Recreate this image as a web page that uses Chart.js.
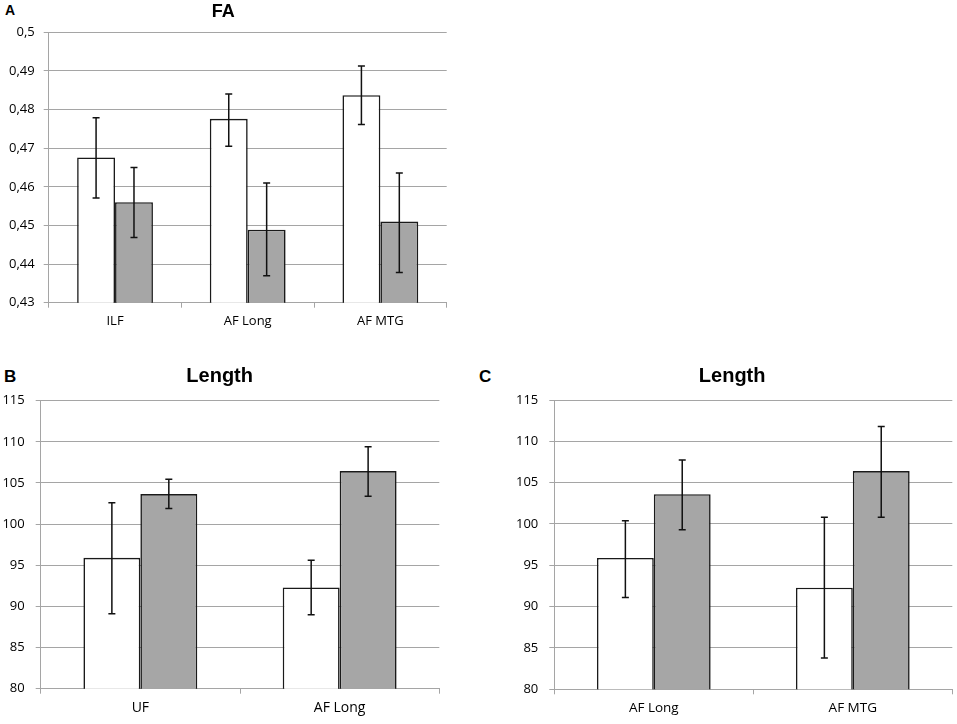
<!DOCTYPE html>
<html>
<head>
<meta charset="utf-8">
<script src="https://cdn.jsdelivr.net/npm/chart.js@4"></script>
<style>
  html, body { margin: 0; padding: 0; background: #fff; overflow: hidden; }
  body { width: 957px; height: 724px; position: relative; }
  .panel { position: absolute; }
  .letter { position: absolute; font-family: "Liberation Sans", Arial, sans-serif; font-weight: bold; color: #000; line-height: 1; }
</style>
</head>
<body>
<div class="letter" style="left:5px;top:3px;font-size:14px">A</div>
<div class="letter" style="left:4px;top:368px;font-size:17px">B</div>
<div class="letter" style="left:479px;top:368px;font-size:17px">C</div>

<div class="panel" style="left:0;top:0;width:462px;height:335px"><canvas id="chartA"></canvas></div>
<div class="panel" style="left:0;top:360px;width:494px;height:364px"><canvas id="chartB"></canvas></div>
<div class="panel" style="left:512px;top:360px;width:488px;height:364px"><canvas id="chartC"></canvas></div>

<script>
// ---- Data ----
const faCats    = ['ILF', 'AF Long', 'AF MTG'];
const faWhite   = [0.4676, 0.4776, 0.4837];
const faWhiteLo = [0.4571, 0.4705, 0.4761];
const faWhiteHi = [0.4779, 0.4840, 0.4913];
const faGray    = [0.4560, 0.4489, 0.4510];
const faGrayLo  = [0.4469, 0.4370, 0.4378];
const faGrayHi  = [0.4650, 0.4610, 0.4636];
const faTicks   = ['0,43', '0,44', '0,45', '0,46', '0,47', '0,48', '0,49', '0,5'];

const bCats    = ['UF', 'AF Long'];
const bWhite   = [95.9, 92.3];
const bWhiteLo = [89.1, 89.0];
const bWhiteHi = [102.6, 95.6];
const bGray    = [103.65, 106.45];
const bGrayLo  = [101.9, 103.4];
const bGrayHi  = [105.45, 109.4];

const cCats    = ['AF Long', 'AF MTG'];
const cWhite   = [95.9, 92.3];
const cWhiteLo = [91.1, 83.8];
const cWhiteHi = [100.4, 100.8];
const cGray    = [103.6, 106.4];
const cGrayLo  = [99.3, 100.8];
const cGrayHi  = [107.75, 111.8];

const lenTicks = ['80', '85', '90', '95', '100', '105', '110', '115'];

// ---- Styles ----
const gridCol = '#a5a5a5';
const tickFont = 'Open Sans';

// ---- Error bars plugin ----
const errorBars = {
  id: 'errorBars',
  afterDatasetsDraw(chart) {
    const { ctx } = chart;
    const y = chart.scales.y;
    ctx.save();
    ctx.strokeStyle = '#111';
    ctx.lineWidth = 1.5;
    chart.data.datasets.forEach((ds, di) => {
      chart.getDatasetMeta(di).data.forEach((bar, i) => {
        const lo = y.getPixelForValue(ds.errLow[i]);
        const hi = y.getPixelForValue(ds.errHigh[i]);
        const cap = 3.5;
        ctx.beginPath();
        ctx.moveTo(bar.x, lo); ctx.lineTo(bar.x, hi);
        ctx.moveTo(bar.x - cap, lo); ctx.lineTo(bar.x + cap, lo);
        ctx.moveTo(bar.x - cap, hi); ctx.lineTo(bar.x + cap, hi);
        ctx.stroke();
      });
    });
    ctx.restore();
  }
};

function makeChart(id, p) {
  return new Chart(document.getElementById(id), {
    type: 'bar',
    data: {
      labels: p.cats,
      datasets: [
        { data: p.white, errLow: p.whiteLo, errHigh: p.whiteHi, backgroundColor: '#ffffff' },
        { data: p.gray,  errLow: p.grayLo,  errHigh: p.grayHi,  backgroundColor: '#a6a6a6' }
      ].map(d => Object.assign(d, {
        borderColor: '#1a1a1a', borderWidth: 1.6,
        categoryPercentage: 2 / 3.5, barPercentage: 1
      }))
    },
    options: {
      responsive: true, maintainAspectRatio: false, animation: false,
      layout: { padding: { left: 0, right: p.padRight, top: 0, bottom: 0 } },
      plugins: {
        legend: { display: false },
        tooltip: { enabled: false },
        title: {
          display: true, text: p.title, color: '#000',
          font: { family: 'Liberation Sans', size: p.titleSize, weight: 'bold', lineHeight: 1.2 },
          padding: { top: p.titleTop, bottom: p.titleBottom }
        }
      },
      scales: {
        x: {
          afterFit: s => { s.height = p.xHeight; },
          grid: { drawOnChartArea: false, drawTicks: true, tickLength: 5, color: gridCol, offset: true },
          border: { color: gridCol },
          ticks: { color: '#000', padding: 6, font: { family: tickFont, size: p.catSize } }
        },
        y: {
          min: p.min, max: p.max,
          afterFit: s => { s.width = p.yWidth; },
          grid: { color: gridCol, tickLength: 5 },
          border: { color: gridCol },
          ticks: {
            stepSize: p.step, color: '#000', padding: p.tickPad,
            font: { family: tickFont, size: p.tickSize },
            callback: (v, i) => p.tickLabels[i]
          }
        }
      }
    },
    plugins: [errorBars]
  });
}

makeChart('chartA', {
  cats: faCats, white: faWhite, whiteLo: faWhiteLo, whiteHi: faWhiteHi,
  gray: faGray, grayLo: faGrayLo, grayHi: faGrayHi, tickLabels: faTicks,
  title: 'FA', titleSize: 18, titleTop: 1.2, titleBottom: 9.5,
  min: 0.43, max: 0.5, step: 0.01,
  yWidth: 48.7, xHeight: 32.3, padRight: 15.3, tickPad: 9, tickSize: 13, catSize: 13
});

makeChart('chartB', {
  cats: bCats, white: bWhite, whiteLo: bWhiteLo, whiteHi: bWhiteHi,
  gray: bGray, grayLo: bGrayLo, grayHi: bGrayHi, tickLabels: lenTicks,
  title: 'Length', titleSize: 20, titleTop: 4, titleBottom: 12.7,
  min: 80, max: 115, step: 5,
  yWidth: 40.7, xHeight: 35.3, padRight: 54.7, tickPad: 11, tickSize: 13, catSize: 14
});

makeChart('chartC', {
  cats: cCats, white: cWhite, whiteLo: cWhiteLo, whiteHi: cWhiteHi,
  gray: cGray, grayLo: cGrayLo, grayHi: cGrayHi, tickLabels: lenTicks,
  title: 'Length', titleSize: 20, titleTop: 4, titleBottom: 12,
  min: 80, max: 115, step: 5,
  yWidth: 42.3, xHeight: 34.7, padRight: 47.7, tickPad: 11, tickSize: 13, catSize: 13.5
});
</script>
</body>
</html>
